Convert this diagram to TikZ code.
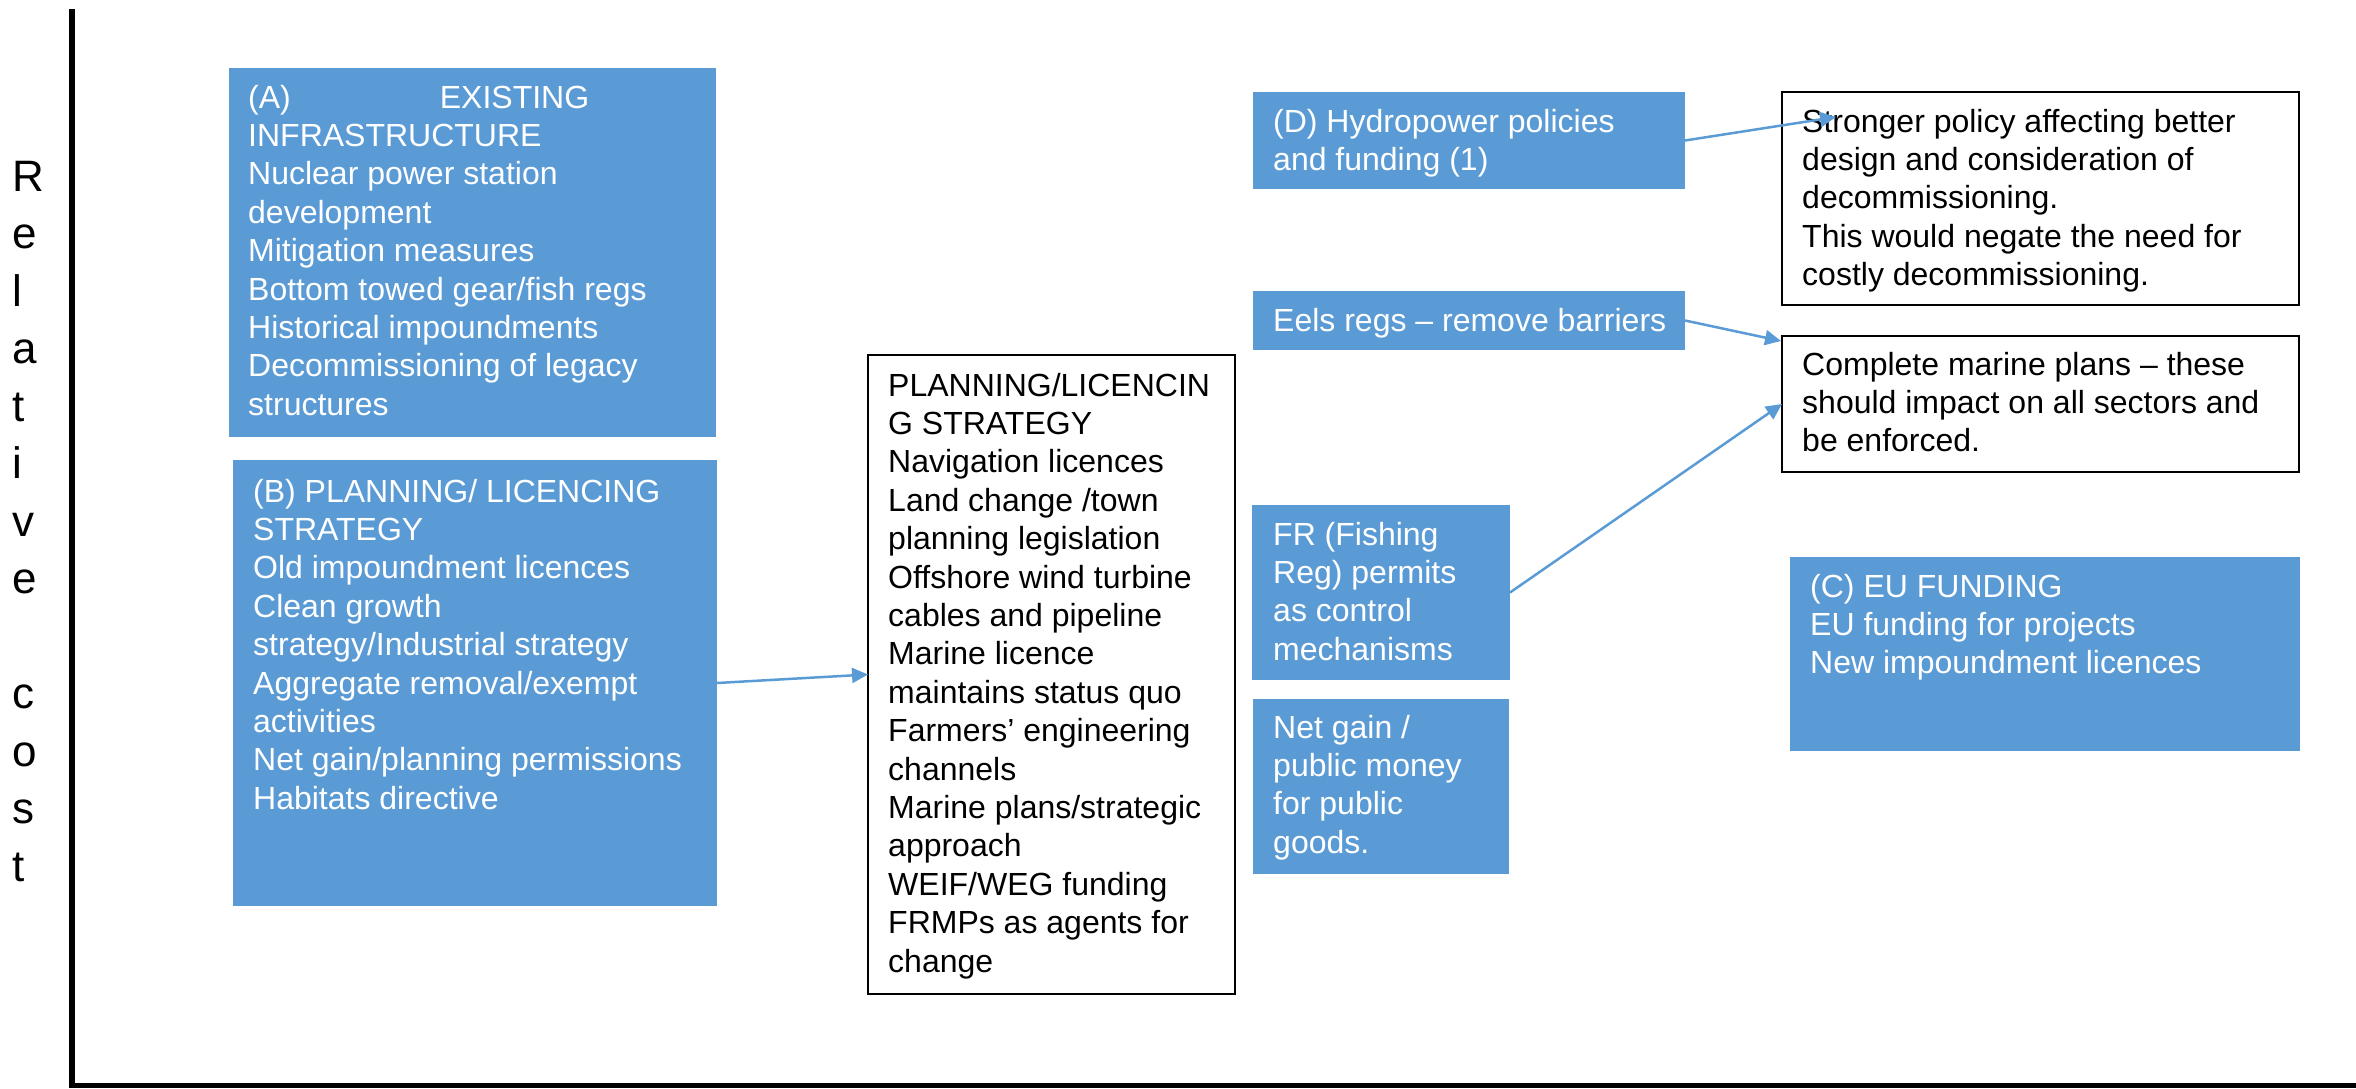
\documentclass[tikz,border=0pt]{standalone}
\usepackage{fontspec}
\setmainfont{Liberation Sans}
\usetikzlibrary{arrows.meta}
\definecolor{boxblue}{HTML}{5B9BD5}
\newcommand\bodyfont{\fontsize{32}{38.4}\selectfont}
\newcommand\axisfont{\fontsize{44}{57.5}\selectfont}

\begin{document}
\begin{tikzpicture}[x=1pt,y=-1pt,
  bluebox/.style={fill=boxblue, draw=none, inner sep=0pt, outer sep=0pt, anchor=north west},
  whitebox/.style={fill=white, draw=black, line width=2pt, inner sep=0pt, outer sep=0pt, anchor=north west},
  wtext/.style={anchor=north west, inner sep=0pt, align=left, text=white, font=\bodyfont},
  ktext/.style={anchor=north west, inner sep=0pt, align=left, text=black, font=\bodyfont},
  link/.style={draw=boxblue, line width=2.5pt, -{Triangle[length=16pt,width=15pt]}}]

\useasboundingbox (0,0) rectangle (2356,1089);

% axes
\draw[line width=5.6pt] (72,9) |- (2356,1085.5);

% axis title, one letter per line
\node[anchor=north west, inner sep=0pt, align=left, font=\axisfont] (ytitle) at (12,150.75)
  {\strut R\\e\\l\\a\\t\\i\\v\\e\\[57.5pt]c\\o\\s\\t};

% (A) existing infrastructure
\node[bluebox, minimum width=487pt, minimum height=369pt] (A) at (229,68) {};
\node[wtext] (Atxt) at (248,81.1) {\strut(A)\hspace*{149pt}EXISTING\\INFRASTRUCTURE\\Nuclear power station\\development\\Mitigation measures\\Bottom towed gear/fish regs\\Historical impoundments\\Decommissioning of legacy\\structures};

% (B) planning / licencing strategy
\node[bluebox, minimum width=484pt, minimum height=446pt] (B) at (233,460) {};
\node[wtext] (Btxt) at (253,475.1) {\strut(B) PLANNING/ LICENCING\\STRATEGY\\Old impoundment licences\\Clean growth\\strategy/Industrial strategy\\Aggregate removal/exempt\\activities\\Net gain/planning permissions\\Habitats directive};

% middle list
\node[whitebox, minimum width=367pt, minimum height=639pt] (M) at (868,355) {};
\node[ktext] (Mtxt) at (888,369.1) {\strut PLANNING/LICENCIN\\G STRATEGY\\Navigation licences\\Land change /town\\planning legislation\\Offshore wind turbine\\cables and pipeline\\Marine licence\\maintains status quo\\Farmers’ engineering\\channels\\Marine plans/strategic\\approach\\WEIF/WEG funding\\FRMPs as agents for\\change};

% (D) hydropower
\node[bluebox, minimum width=432pt, minimum height=97pt] (D) at (1253,92) {};
\node[wtext] (Dtxt) at (1273,105.1) {\strut(D) Hydropower policies\\and funding (1)};

% eels
\node[bluebox, minimum width=432pt, minimum height=59pt] (E) at (1253,291) {};
\node[wtext] (Etxt) at (1273,304.1) {\strut Eels regs – remove barriers};

% fishing regulation permits
\node[bluebox, minimum width=258pt, minimum height=175pt] (FR) at (1252,505) {};
\node[wtext] (FRtxt) at (1273,518.1) {\strut FR (Fishing\\Reg) permits\\as control\\mechanisms};

% net gain
\node[bluebox, minimum width=256pt, minimum height=175pt] (N) at (1253,699) {};
\node[wtext] (Ntxt) at (1273,711.1) {\strut Net gain /\\public money\\for public\\goods.};

% stronger policy
\node[whitebox, minimum width=517pt, minimum height=213pt] (S) at (1782,92) {};
\node[ktext] (Stxt) at (1802,105.1) {\strut Stronger policy affecting better\\design and consideration of\\decommissioning.\\This would negate the need for\\costly decommissioning.};

% complete marine plans
\node[whitebox, minimum width=517pt, minimum height=136pt] (CM) at (1782,336) {};
\node[ktext] (CMtxt) at (1802,348.1) {\strut Complete marine plans – these\\should impact on all sectors and\\be enforced.};

% (C) EU funding
\node[bluebox, minimum width=510pt, minimum height=194pt] (C) at (1790,557) {};
\node[wtext] (Ctxt) at (1810,570.1) {\strut(C) EU FUNDING\\EU funding for projects\\New impoundment licences};

% connectors
\coordinate (Stip) at (1836,117);
\coordinate (CMtip) at (1781,341);
\draw[link] (B.east) -- (M.west);
\draw[link] (D.east) -- (Stip);
\draw[link] (E.east) -- (CMtip);
\draw[link] (FR.east) -- (CM.west);

\end{tikzpicture}
\end{document}
